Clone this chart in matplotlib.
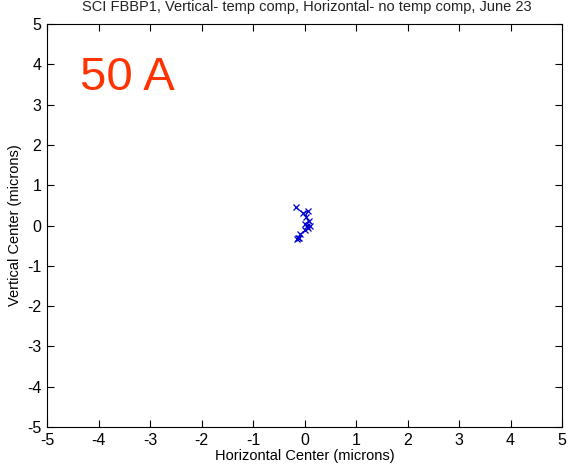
import matplotlib
matplotlib.use("Agg")
import matplotlib.pyplot as plt

plt.rcParams['font.family'] = ['Liberation Sans', 'DejaVu Sans']
plt.rcParams['axes.unicode_minus'] = False

# Beam centre drift, in microns
horizontal = [-0.17, -0.02, 0.06, 0.03, 0.08, 0.00, 0.10, 0.04, 0.07, 0.01,
              -0.08, -0.12, -0.15, -0.10]
vertical = [0.45, 0.30, 0.36, 0.22, 0.10, 0.04, -0.02, 0.00, -0.07, -0.12,
            -0.22, -0.32, -0.34, -0.30]

ticks = [-5, -4, -3, -2, -1, 0, 1, 2, 3, 4, 5]
title = "SCI FBBP1, Vertical- temp comp, Horizontal- no temp comp, June 23"
current_label = "50 A"

fig = plt.figure(figsize=(5.76, 4.72), dpi=100)
ax = fig.add_axes([47 / 576, 1 - 427 / 472, 515 / 576, 403 / 472])

ax.plot(horizontal, vertical, color='#0000cc', linewidth=0.7,
        marker='x', markersize=5, markeredgewidth=0.9)

ax.set_xlim(-5, 5)
ax.set_ylim(-5, 5)
ax.set_xticks(ticks)
ax.set_yticks(ticks)
ax.tick_params(direction='in', length=5, width=0.8, top=True, right=True,
               labelsize=11.5, pad=4)
for s in ax.spines.values():
    s.set_linewidth(0.8)

ax.set_xlabel("Horizontal Center (microns)", fontsize=10.5, labelpad=1)
ax.set_ylabel("Vertical Center (microns)", fontsize=10.5, labelpad=4)

ax.text(-4.36, 3.36, current_label, color='#ff3300', fontsize=34,
        ha='left', va='baseline')

fig.text(307 / 576, 1 - 11 / 472, title, fontsize=10.5, ha='center',
         va='baseline', color='#222222')

fig.savefig("out.png", dpi=100)
